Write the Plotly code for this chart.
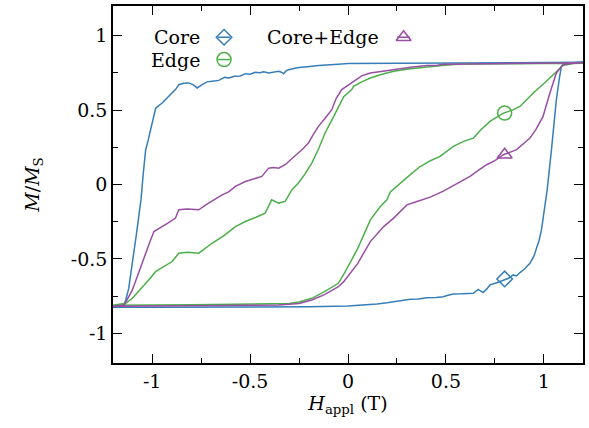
import plotly.graph_objects as go

# ---------------- data ----------------
core_x = [1.2, 1.0, 0.8, 0.6, 0.4, 0.2, 0.1, 0.0, -0.05, -0.1, -0.15, -0.185, -0.22, -0.26, -0.303, -0.315,
          -0.329, -0.34, -0.354, -0.38, -0.405, -0.43, -0.45, -0.474, -0.5, -0.524, -0.55, -0.58, -0.609,
          -0.63, -0.66, -0.694, -0.72, -0.745, -0.76, -0.77, -0.79, -0.813, -0.84, -0.864, -0.88, -0.898,
          -0.92, -0.949, -0.982, -0.995, -1.008, -1.02, -1.033, -1.045, -1.057, -1.08, -1.1, -1.12, -1.135,
          -1.143, -1.17, -1.2,
          -1.2, -1.0, -0.8, -0.6, -0.4, -0.2, 0.0, 0.1, 0.148, 0.2, 0.25, 0.318, 0.36, 0.4, 0.45, 0.487,
          0.51, 0.538, 0.58, 0.62, 0.64, 0.665, 0.69, 0.71, 0.725, 0.76, 0.793, 0.82, 0.844, 0.86, 0.878,
          0.9, 0.929, 0.95, 0.962, 0.975, 0.988, 1.005, 1.017, 1.039, 1.064, 1.08, 1.09, 1.11, 1.15, 1.2]
core_y = [0.822, 0.82, 0.82, 0.818, 0.818, 0.815, 0.815, 0.813, 0.808, 0.806, 0.8, 0.795, 0.79, 0.785,
          0.772, 0.765, 0.745, 0.755, 0.761, 0.755, 0.75, 0.758, 0.752, 0.754, 0.742, 0.745, 0.73, 0.728,
          0.716, 0.72, 0.7, 0.694, 0.69, 0.671, 0.66, 0.649, 0.67, 0.683, 0.68, 0.671, 0.64, 0.615, 0.59,
          0.548, 0.514, 0.45, 0.368, 0.3, 0.234, 0.08, -0.1, -0.33, -0.53, -0.7, -0.776, -0.81, -0.82, -0.822,
          -0.826, -0.826, -0.826, -0.825, -0.824, -0.822, -0.817, -0.81, -0.803, -0.795, -0.785, -0.772,
          -0.77, -0.762, -0.76, -0.754, -0.745, -0.736, -0.735, -0.73, -0.731, -0.705, -0.727, -0.7, -0.675,
          -0.66, -0.642, -0.63, -0.608, -0.615, -0.592, -0.57, -0.529, -0.48, -0.43, -0.38, -0.305, -0.148,
          -0.036, 0.234, 0.57, 0.72, 0.795, 0.815, 0.82, 0.822]

edge_x = [1.2, 1.0, 0.8, 0.573, 0.48, 0.403, 0.32, 0.233, 0.17, 0.114, 0.07, 0.029, 0.019, -0.022, -0.049,
          -0.08, -0.117, -0.15, -0.185, -0.22, -0.253, -0.287, -0.321, -0.354, -0.39, -0.423, -0.47, -0.524,
          -0.575, -0.63, -0.694, -0.73, -0.762, -0.82, -0.864, -0.898, -0.94, -0.966, -0.983, -1.01, -1.033,
          -1.07, -1.101, -1.135, -1.2,
          -1.2, -0.8, -0.6, -0.4, -0.3, -0.25, -0.185, -0.12, -0.049, -0.02, 0.019, 0.046, 0.08, 0.114,
          0.165, 0.199, 0.216, 0.25, 0.284, 0.33, 0.369, 0.42, 0.47, 0.538, 0.59, 0.64, 0.68, 0.725, 0.793,
          0.84, 0.878, 0.946, 1.013, 1.064, 1.098, 1.15, 1.2]
edge_y = [0.815, 0.813, 0.812, 0.81, 0.8, 0.79, 0.778, 0.761, 0.74, 0.716, 0.69, 0.66, 0.638, 0.59, 0.525,
          0.44, 0.346, 0.24, 0.144, 0.07, 0.01, -0.036, -0.114, -0.125, -0.103, -0.193, -0.22, -0.249, -0.283,
          -0.34, -0.395, -0.43, -0.462, -0.455, -0.462, -0.518, -0.55, -0.574, -0.586, -0.63, -0.664, -0.72,
          -0.765, -0.799, -0.812,
          -0.812, -0.808, -0.805, -0.803, -0.8, -0.79, -0.765, -0.72, -0.664, -0.6, -0.5, -0.44, -0.34,
          -0.238, -0.148, -0.103, -0.05, -0.01, 0.032, 0.08, 0.121, 0.16, 0.189, 0.256, 0.29, 0.312, 0.37,
          0.424, 0.48, 0.5, 0.525, 0.615, 0.694, 0.761, 0.8, 0.813, 0.815]

both_x = [1.2, 1.0, 0.8, 0.6, 0.52, 0.488, 0.45, 0.403, 0.33, 0.233, 0.17, 0.114, 0.07, 0.029, -0.032,
          -0.06, -0.083, -0.12, -0.151, -0.18, -0.202, -0.23, -0.253, -0.29, -0.321, -0.354, -0.38, -0.405,
          -0.44, -0.48, -0.524, -0.575, -0.609, -0.643, -0.694, -0.73, -0.762, -0.82, -0.864, -0.881, -0.92,
          -0.966, -0.991, -1.01, -1.033, -1.067, -1.101, -1.143, -1.2,
          -1.2, -0.8, -0.5, -0.354, -0.25, -0.185, -0.12, -0.049, -0.022, 0.019, 0.05, 0.114, 0.182, 0.233,
          0.27, 0.301, 0.352, 0.42, 0.487, 0.55, 0.623, 0.66, 0.708, 0.75, 0.793, 0.861, 0.929, 0.96, 0.996,
          1.031, 1.064, 1.098, 1.15, 1.2]
both_y = [0.818, 0.815, 0.815, 0.813, 0.812, 0.808, 0.8, 0.8, 0.79, 0.772, 0.76, 0.75, 0.73, 0.694, 0.638,
          0.58, 0.503, 0.44, 0.391, 0.33, 0.279, 0.24, 0.211, 0.17, 0.133, 0.11, 0.115, 0.11, 0.054, 0.04,
          0.02, -0.013, -0.05, -0.07, -0.11, -0.14, -0.17, -0.165, -0.17, -0.226, -0.26, -0.294, -0.316,
          -0.38, -0.462, -0.597, -0.709, -0.81, -0.818,
          -0.818, -0.815, -0.812, -0.81, -0.8, -0.776, -0.74, -0.687, -0.653, -0.586, -0.53, -0.384, -0.283,
          -0.226, -0.18, -0.137, -0.114, -0.085, -0.045, 0.0, 0.054, 0.09, 0.133, 0.16, 0.2, 0.234, 0.312,
          0.37, 0.458, 0.615, 0.75, 0.806, 0.815, 0.818]

# one point marker per curve
mark_x = [0.8, 0.8, 0.8]
mark_y = [-0.635, 0.48, 0.2]

names = ["Core", "Edge", "Core+Edge"]
colors = ["#377eb8", "#4daf4a", "#984ea3"]
symbols = ["diamond-open", "circle-open", "triangle-up-open"]
msizes = [12, 14, 13]

tick_vals = [-1, -0.5, 0, 0.5, 1]
tick_text = ["-1", "-0.5", "0", "0.5", "1"]

FONT = "DejaVu Serif, Liberation Serif, serif"

fig = go.Figure()
series = [(core_x, core_y), (edge_x, edge_y), (both_x, both_y)]
for i, (xs, ys) in enumerate(series):
    fig.add_trace(go.Scatter(x=xs, y=ys, mode="lines",
                             line=dict(color=colors[i], width=1.5), showlegend=False,
                             hoverinfo="skip"))
    fig.add_trace(go.Scatter(x=[mark_x[i]], y=[mark_y[i]], mode="markers",
                             marker=dict(symbol=symbols[i], size=msizes[i], color=colors[i],
                                         line=dict(color=colors[i], width=1.5)),
                             showlegend=False))

# key (gnuplot-like): text right-aligned, then sample
key_pos = [(-0.633, 0.99), (-0.633, 0.84), (0.284, 0.99)]
for i, (kx, ky) in enumerate(key_pos):
    fig.add_trace(go.Scatter(x=[kx - 0.032, kx + 0.032], y=[ky, ky], mode="lines",
                             line=dict(color=colors[i], width=1.5), showlegend=False))
    fig.add_trace(go.Scatter(x=[kx], y=[ky], mode="markers",
                             marker=dict(symbol=symbols[i], size=msizes[i], color=colors[i],
                                         line=dict(color=colors[i], width=1.5)),
                             showlegend=False))
    fig.add_annotation(x=kx - 0.115, y=ky, xref="x", yref="y", text=names[i],
                       showarrow=False, xanchor="right", yanchor="middle",
                       font=dict(family=FONT, size=19, color="black"))

axis_common = dict(
    showgrid=False, zeroline=False, showline=True, linecolor="black", linewidth=1.5,
    mirror="allticks", ticks="inside", ticklen=9, tickwidth=1.3, tickcolor="black",
    tickfont=dict(family=FONT, size=19, color="black"),
    tickvals=tick_vals, ticktext=tick_text,
    minor=dict(ticks="inside", ticklen=5, tickwidth=1.1, tickcolor="black", dtick=0.25,
               tick0=0, showgrid=False),
)

fig.update_layout(
    width=589, height=428,
    margin=dict(l=113, r=4, t=6, b=65),
    paper_bgcolor="white", plot_bgcolor="white",
    xaxis=dict(range=[-1.2, 1.2], **axis_common,
               title=dict(text="<i>H</i><sub>appl</sub> (T)", standoff=6,
                          font=dict(family=FONT, size=19, color="black"))),
    yaxis=dict(range=[-1.2, 1.2], **axis_common,
               title=dict(text="<i>M</i>/<i>M</i><sub>S</sub>", standoff=26,
                          font=dict(family=FONT, size=19, color="black"))),
)

fig.write_html("out.html")
